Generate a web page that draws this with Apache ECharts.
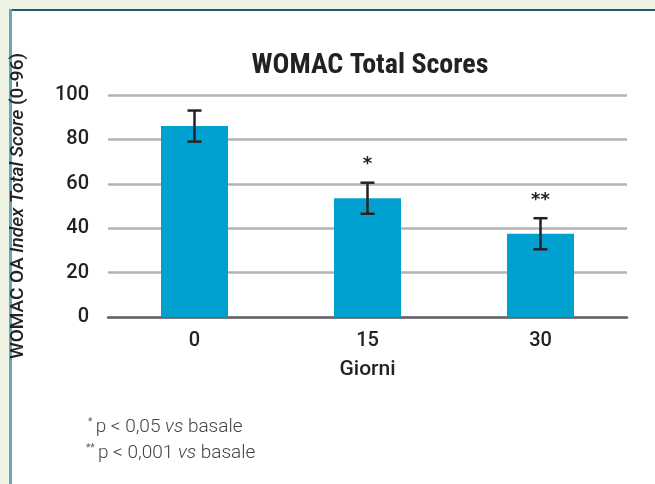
<!DOCTYPE html>
<html>
<head>
<meta charset="utf-8">
<script src="https://cdn.jsdelivr.net/npm/echarts@6/dist/echarts.min.js"></script>
<style>
  html, body { margin: 0; padding: 0; background: #eef3e4; }
  #main { width: 655px; height: 484px; }
</style>
</head>
<body>
<div id="main"></div>
<script>
var days = ['0', '15', '30'];
var scores = [86, 53.5, 37.5];
var errors = [7, 7, 7];
var signif = ['', '*', '**'];
var yTicks = [0, 20, 40, 60, 80, 100];

var narrow = "'Liberation Sans Narrow', 'Roboto Condensed', Arial, sans-serif";
var roboto = "Roboto, Arial, sans-serif";

var chart = echarts.init(document.getElementById('main'));

var errData = days.map(function (d, i) {
    return [i, scores[i] - errors[i], scores[i] + errors[i], signif[i]];
});

var noteRich = {
    s: { fontSize: 10, fill: '#555', fontFamily: roboto, padding: [0, 0, 10, 0] },
    t: { fontSize: 19, fill: '#444', fontFamily: roboto, fontWeight: 300 },
    i: { fontSize: 19, fill: '#444', fontFamily: roboto, fontWeight: 300, fontStyle: 'italic' }
};

var option = {
    backgroundColor: '#eef3e4',
    animation: false,
    graphic: [
        { type: 'rect', shape: { x: 9, y: 9, width: 660, height: 490 }, style: { fill: '#ffffff' }, z: -10 },
        { type: 'rect', shape: { x: 9, y: 9, width: 660, height: 2 }, style: { fill: '#1d5e6c' }, z: -9 },
        { type: 'rect', shape: { x: 9, y: 9, width: 3, height: 490 }, style: { fill: '#6ba6b4' }, z: -9 },
        {
            type: 'text', left: 88, top: 417, z: 10,
            style: { text: '{s|*} {t|p < 0,05 }{i|vs}{t| basale}', rich: noteRich }
        },
        {
            type: 'text', left: 86, top: 443, z: 10,
            style: { text: '{s|**} {t|p < 0,001 }{i|vs}{t| basale}', rich: noteRich }
        }
    ],
    title: {
        text: 'WOMAC Total Scores',
        left: 365,
        textAlign: 'center',
        top: 47,
        textStyle: { fontFamily: narrow, fontWeight: 'bold', fontSize: 28, color: '#222' }
    },
    grid: { left: 108, right: 28, top: 95, bottom: 167 },
    xAxis: {
        type: 'category',
        data: days,
        name: 'Giorni',
        nameLocation: 'middle',
        nameGap: 42,
        nameTextStyle: { fontFamily: roboto, fontWeight: 500, fontSize: 21, color: '#222' },
        axisLine: { lineStyle: { color: '#666', width: 2.5 } },
        axisTick: { show: false },
        axisLabel: { margin: 14, fontFamily: roboto, fontWeight: 500, fontSize: 20, color: '#222' }
    },
    yAxis: {
        type: 'value',
        min: 0,
        max: 100,
        interval: 20,
        name: '{a|WOMAC OA }{b|Index Total Score}{a| (0-96)}',
        nameLocation: 'middle',
        nameRotate: 90,
        nameGap: 80,
        nameTextStyle: {
            rich: {
                a: { fontFamily: roboto, fontWeight: 500, fontSize: 19, color: '#222' },
                b: { fontFamily: roboto, fontWeight: 500, fontSize: 19, color: '#222', fontStyle: 'italic' }
            }
        },
        axisLine: { show: false },
        axisTick: { show: false },
        axisLabel: {
            margin: 19, fontFamily: roboto, fontWeight: 500, fontSize: 20, color: '#222',
            formatter: function (v) { return yTicks.indexOf(v) >= 0 ? String(v) : ''; }
        },
        splitLine: { lineStyle: { color: '#b3b3b3', width: 2.5 } }
    },
    series: [
        {
            type: 'bar',
            data: scores,
            barWidth: 67,
            itemStyle: { color: '#00a0d1' }
        },
        {
            type: 'custom',
            data: errData,
            z: 5,
            renderItem: function (params, api) {
                var lo = api.coord([api.value(0), api.value(1)]);
                var hi = api.coord([api.value(0), api.value(2)]);
                var x = lo[0];
                var hw = 7;
                var st = { stroke: '#222', lineWidth: 2.5 };
                var kids = [
                    { type: 'line', shape: { x1: x, y1: hi[1], x2: x, y2: lo[1] }, style: st },
                    { type: 'line', shape: { x1: x - hw, y1: hi[1], x2: x + hw, y2: hi[1] }, style: st },
                    { type: 'line', shape: { x1: x - hw, y1: lo[1], x2: x + hw, y2: lo[1] }, style: st }
                ];
                var mark = api.value(3);
                if (mark) {
                    kids.push({
                        type: 'text',
                        style: {
                            text: mark, x: x, y: hi[1] - 9,
                            align: 'center', verticalAlign: 'bottom',
                            fontSize: 18, fontWeight: 'bold', fontFamily: 'DejaVu Sans', fill: '#222'
                        }
                    });
                }
                return { type: 'group', children: kids };
            }
        }
    ]
};

chart.setOption(option);
</script>
</body>
</html>
